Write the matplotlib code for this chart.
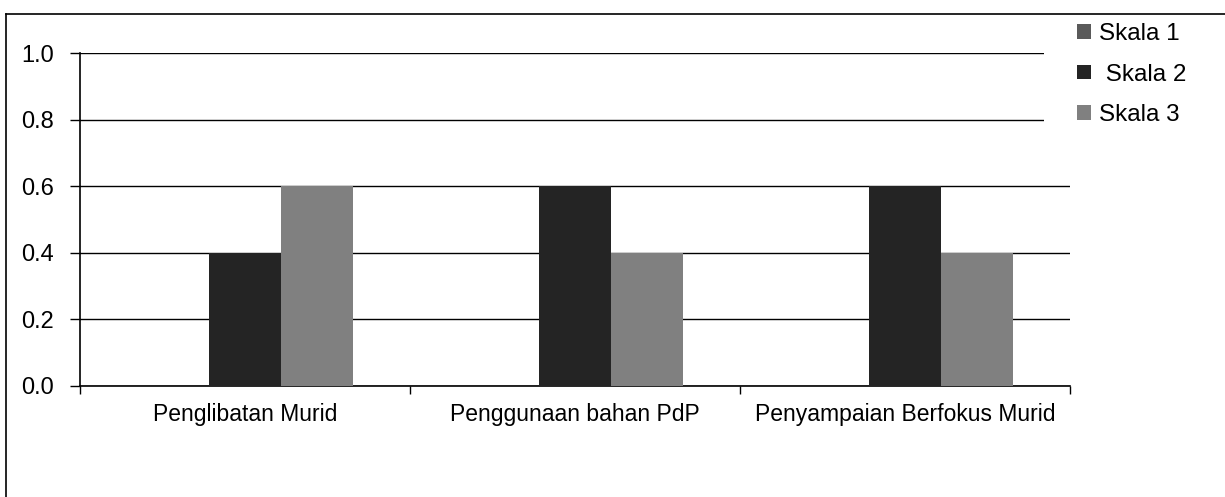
import matplotlib
matplotlib.use("Agg")
import matplotlib.pyplot as plt
from matplotlib.lines import Line2D
from matplotlib.patches import Patch, Rectangle
import numpy as np

categories = ["Penglibatan Murid", "Penggunaan bahan PdP", "Penyampaian Berfokus Murid"]
series_names = ["Skala 1", " Skala 2", "Skala 3"]
skala1 = [0.0, 0.0, 0.0]
skala2 = [0.4, 0.6, 0.6]
skala3 = [0.6, 0.4, 0.4]
yticks = [0.0, 0.2, 0.4, 0.6, 0.8, 1.0]

colors = ["#5a5a5a", "#242424", "#808080"]

plt.rcParams['font.family'] = ['Liberation Sans', 'DejaVu Sans']

fig = plt.figure(figsize=(12.25, 4.97), dpi=100)
ax = fig.add_axes([80/1225, 1-386/497, 990/1225, 333/497])

x = np.arange(len(categories))
w = 0.218
for k, (vals, c) in enumerate(zip([skala1, skala2, skala3], colors)):
    ax.bar(x + (k-1)*w, vals, width=w, color=c, edgecolor='none', zorder=3)

ax.set_xlim(-0.5, len(categories)-0.5)
ax.set_ylim(0, 1.0)
ax.set_yticks(yticks)
ax.set_yticklabels([f"{v:.1f}" for v in yticks], fontsize=17)
for v in yticks:
    ax.axhline(v, color='black', lw=1.0, zorder=2)

ax.set_xticks(x)
ax.set_xticklabels(categories, fontsize=16.5)
ax.tick_params(axis='x', length=0, pad=12)
ax.set_xticks(np.arange(len(categories)+1)-0.5, minor=True)
ax.tick_params(axis='x', which='minor', length=6, width=1, direction='out')
ax.tick_params(axis='y', length=7, width=1, direction='out', pad=12)

for s in ['top', 'right']:
    ax.spines[s].set_visible(False)
for s in ['left', 'bottom']:
    ax.spines[s].set_linewidth(1.2)

# white legend area covering the right end of the upper gridlines
fig.add_artist(Rectangle((1044/1225, 1-140/497), (1225-1044)/1225, 120/497,
                         transform=fig.transFigure, facecolor='white',
                         edgecolor='none', zorder=5))

handles = [Patch(facecolor=c, edgecolor='none') for c in colors]
leg = fig.legend(handles, series_names, loc='upper left',
                 bbox_to_anchor=(1070/1225, 1-16/497), frameon=False,
                 fontsize=17.5, handlelength=0.55, handleheight=0.55,
                 handletextpad=0.33, labelspacing=0.76, borderpad=0.3,
                 borderaxespad=0)
leg.set_zorder(10)

# outer frame (left and top edges)
fig.add_artist(Line2D([6/1225, 6/1225], [0, 1-14/497], transform=fig.transFigure, color='black', lw=1.2, zorder=11))
fig.add_artist(Line2D([6/1225, 1], [1-14/497, 1-14/497], transform=fig.transFigure, color='black', lw=1.2, zorder=11))

fig.savefig("out.png", dpi=100)
